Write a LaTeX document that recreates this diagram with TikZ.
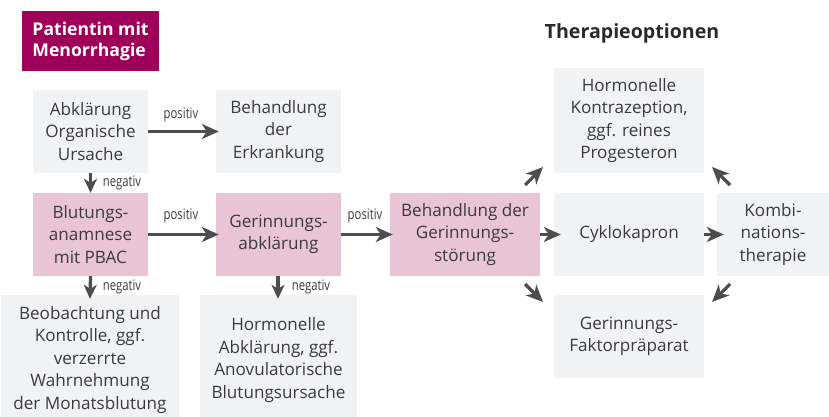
\documentclass[tikz,border=0pt]{standalone}
\usepackage{fontspec}
\setmainfont{Open Sans}
\newfontfamily\condfont[FakeStretch=0.78]{Open Sans}
\usetikzlibrary{arrows.meta}
\definecolor{txt}{HTML}{3A3A3C}
\definecolor{graybox}{HTML}{F1F2F4}
\definecolor{pinkbox}{HTML}{E8C4D5}
\definecolor{magbox}{HTML}{9E0059}
\definecolor{arr}{HTML}{4D4D4F}
\begin{document}
\begin{tikzpicture}[x=1pt,y=-1pt,
  box/.style={inner sep=0pt, align=center, text=txt, font=\fontsize{17.1}{22.5}\selectfont},
  gbox/.style={box, fill=graybox},
  pbox/.style={box, fill=pinkbox},
  conn/.style={draw=arr, line width=3.2pt, -{Stealth[length=17pt,width=15pt,inset=5pt]}},
  vconn/.style={draw=arr, line width=3.2pt, -{Stealth[length=14pt,width=13pt,inset=4pt]}},
  lab/.style={text=txt, font=\condfont\fontsize{14.5}{16}\selectfont, inner sep=0pt}
]
\useasboundingbox (0,0) rectangle (829,416);

% title
\node[fill=magbox, text=white, font=\bfseries\fontsize{17.6}{21}\selectfont,
      minimum width=137pt, minimum height=60pt, align=left, inner sep=0pt] (title) at (90.5,41) {Patientin mit\\Menorrhagie};
\node[text=txt!70!black, font=\bfseries\fontsize{19.6}{22}\selectfont, inner sep=0pt] (ther) at (632,33) {Therapieoptionen};

% boxes
\node[gbox, minimum width=115pt, minimum height=83pt] (abk) at (90.5,131.5) {Abklärung\\Organische\\Ursache};
\node[gbox, minimum width=125pt, minimum height=83pt] (erk) at (278.5,131.5) {Behandlung\\der\\Erkrankung};
\node[pbox, minimum width=115pt, minimum height=83pt] (blut) at (90.5,234.5) {Blutungs-\\anamnese\\mit PBAC};
\node[pbox, minimum width=125pt, minimum height=83pt] (gerin) at (278.5,234.5) {Gerinnungs-\\abklärung};
\node[pbox, minimum width=150pt, minimum height=83pt] (behg) at (465,234.5) {Behandlung der\\Gerinnungs-\\störung};
\node[gbox, minimum width=150pt, minimum height=83pt] (cyk) at (629,234.5) {Cyklokapron};
\node[gbox, minimum width=112pt, minimum height=83pt] (kombi) at (773,234.5) {Kombi-\\nations-\\therapie};
\node[gbox, minimum width=150pt, minimum height=105pt] (horm) at (629,120.5) {Hormonelle\\Kontrazeption,\\ggf. reines\\Progesteron};
\node[gbox, minimum width=150pt, minimum height=83pt] (fakt) at (629,336.5) {Gerinnungs-\\Faktorpräparat};
\node[gbox, minimum width=178pt, minimum height=130pt] (beob) at (90,360) {Beobachtung und\\Kontrolle, ggf.\\verzerrte\\Wahrnehmung\\der Monatsblutung};
\node[gbox, minimum width=157pt, minimum height=130pt] (hab) at (278.5,360) {Hormonelle\\Abklärung, ggf.\\Anovulatorische\\Blutungsursache};

% horizontal connectors
\draw[conn, shorten >=-3pt] (abk.east) -- (erk.west);
\draw[conn, shorten >=-3pt] (blut.east) -- (gerin.west);
\draw[conn, shorten >=-3pt] (gerin.east) -- (behg.west);
\draw[conn, shorten >=-7pt] (behg.east) -- (cyk.west);
\draw[conn, shorten >=-7pt] (cyk.east) -- (kombi.west);

% vertical connectors
\draw[vconn] (abk.south) -- (blut.north);
\draw[vconn, shorten >=-4pt] (blut.south) -- (beob.north);
\draw[vconn, shorten >=-4pt] ([xshift=-0.5pt]gerin.south) -- ([xshift=-0.5pt]gerin.south |- hab.north);

% diagonal connectors
\coordinate (d1s) at (525,185);
\coordinate (d1e) at (543,167);
\coordinate (d2s) at (730,185);
\coordinate (d2e) at (712,167);
\coordinate (d3s) at (525,284);
\coordinate (d3e) at (543,302);
\coordinate (d4s) at (730,284);
\coordinate (d4e) at (712,302);
\draw[conn] (d1s) -- (d1e);
\draw[conn] (d2s) -- (d2e);
\draw[conn] (d3s) -- (d3e);
\draw[conn] (d4s) -- (d4e);

% labels
\node[lab] (l1) at (181,115) {positiv};
\node[lab] (l2) at (181,216) {positiv};
\node[lab] (l3) at (365,216) {positiv};
\node[lab] (l4) at (122,183) {negativ};
\node[lab] (l5) at (122,287) {negativ};
\node[lab] (l6) at (311,287) {negativ};
\end{tikzpicture}
\end{document}
